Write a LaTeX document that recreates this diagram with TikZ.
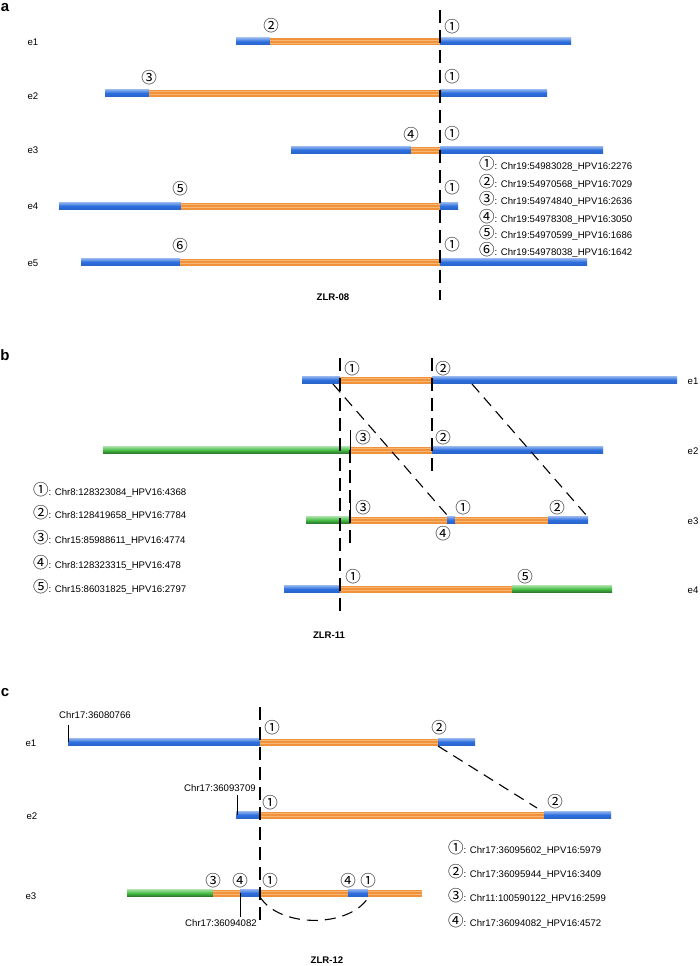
\documentclass[tikz,border=0pt]{standalone}
\usepackage{fontspec}
\setmainfont{Liberation Sans}
\newfontfamily\circf{Noto Sans CJK SC}
\definecolor{bblue}{RGB}{45,110,222}
\definecolor{borange}{RGB}{240,145,60}
\definecolor{ostripe}{RGB}{248,182,115}
\definecolor{bgreen}{RGB}{70,190,70}
\tikzset{
  lbl/.style={font=\fontsize{9.6}{11}\selectfont, inner sep=0pt},
  num/.style={font=\circf\fontsize{15.5}{15.5}\selectfont, inner sep=0pt},
  ttl/.style={font=\bfseries\fontsize{9.6}{11}\selectfont, inner sep=0pt},
  panel/.style={font=\bfseries\fontsize{15}{15}\selectfont, inner sep=0pt},
  legend/.style={font=\fontsize{9.6}{11}\selectfont, inner sep=0pt, anchor=west},
  vdash/.style={line width=1.1pt, dash pattern=on 13pt off 7pt},
  ddash/.style={line width=1.1pt, dash pattern=on 11pt off 7pt},
  tick/.style={line width=0.9pt},
}
\newcommand{\bseg}[3]{\shade[top color=bblue!55!white, bottom color=bblue!90!black, middle color=bblue] (#1,#3-3.5) rectangle (#2,#3+3.5);}
\newcommand{\gseg}[3]{\shade[top color=bgreen!50!white, bottom color=bgreen!60!black, middle color=bgreen] (#1,#3-3.5) rectangle (#2,#3+3.5);}
\newcommand{\oseg}[3]{\fill[borange] (#1,#3-3.5) rectangle (#2,#3+3.5);
  \draw[ostripe, line width=0.5pt] (#1,#3-1.3) -- (#2,#3-1.3) (#1,#3+1.3) -- (#2,#3+1.3);}
\newcommand{\cn}[1]{{\circf\fontsize{15.5}{15.5}\selectfont #1}}
\begin{document}
\begin{tikzpicture}[x=1pt, y=-1pt]
\useasboundingbox (0,0) rectangle (700,966);

\node[panel] (pa) at (5,8) {a};

\bseg{236}{270}{41.5} \oseg{270}{440}{41.5} \bseg{440}{571}{41.5}
\bseg{105}{149}{93} \oseg{149}{440}{93} \bseg{440}{547}{93}
\bseg{291}{411}{150} \oseg{411}{440}{150} \bseg{440}{603}{150}
\bseg{59}{181}{206} \oseg{181}{440}{206} \bseg{440}{458}{206}
\bseg{81}{180}{262} \oseg{180}{440}{262} \bseg{440}{587}{262}

\node[lbl] (ae1) at (33,42) {e1};
\node[lbl] (ae2) at (33,96) {e2};
\node[lbl] (ae3) at (33,150) {e3};
\node[lbl] (ae4) at (33,206) {e4};
\node[lbl] (ae5) at (33,263) {e5};

\coordinate (atop) at (440,10);
\coordinate (abot) at (440,300);
\draw[vdash] (atop) -- (abot);

\node[num] (a12) at (271,26) {②};
\node[num] (a11) at (452,27) {①};
\node[num] (a23) at (149,78) {③};
\node[num] (a21) at (452,77) {①};
\node[num] (a34) at (411,135) {④};
\node[num] (a31) at (452,134) {①};
\node[num] (a45) at (180,189) {⑤};
\node[num] (a41) at (452,188) {①};
\node[num] (a56) at (180,246) {⑥};
\node[num] (a51) at (452,245) {①};

\node[legend] (la1) at (479,164) {\cn{①}: Chr19:54983028\_HPV16:2276};
\node[legend] (la2) at (479,182) {\cn{②}: Chr19:54970568\_HPV16:7029};
\node[legend] (la3) at (479,199) {\cn{③}: Chr19:54974840\_HPV16:2636};
\node[legend] (la4) at (479,217) {\cn{④}: Chr19:54978308\_HPV16:3050};
\node[legend] (la5) at (479,233) {\cn{⑤}: Chr19:54970599\_HPV16:1686};
\node[legend] (la6) at (479,250) {\cn{⑥}: Chr19:54978038\_HPV16:1642};

\node[ttl] (za) at (333,297) {ZLR-08};

\node[panel] (pb) at (5,355) {b};

\bseg{302}{340}{380} \oseg{340}{432}{380} \bseg{432}{677}{380}
\gseg{103}{350}{450} \oseg{350}{432}{450} \bseg{432}{603}{450}
\gseg{306}{350}{520} \oseg{350}{447}{520} \bseg{447}{455}{520} \oseg{455}{548}{520} \bseg{548}{588}{520}
\bseg{284}{340}{589} \oseg{340}{512}{589} \gseg{512}{612}{589}

\node[lbl] (be1) at (693,381) {e1};
\node[lbl] (be2) at (693,451) {e2};
\node[lbl] (be3) at (693,521) {e3};
\node[lbl] (be4) at (693,590) {e4};

\coordinate (b1top) at (340,358);
\coordinate (b1bot) at (340,613);
\coordinate (b2top) at (432,358);
\coordinate (b2bot) at (432,473);
\coordinate (b3top) at (350,430);
\coordinate (b3mid) at (350,450);
\coordinate (b3bot) at (350,543);
\coordinate (b3e3) at (350,500);
\coordinate (b3e3b) at (350,520);
\draw[vdash] (b1top) -- (b1bot);
\draw[vdash] (b2top) -- (b2bot);
\draw[tick] (b3top) -- (b3mid);
\draw[vdash] (b3mid) -- (b3bot);
\draw[tick] (b3e3) -- (b3e3b);

\coordinate (bd1s) at (333,384);
\coordinate (bd1e) at (447,515);
\coordinate (bd2s) at (472,384);
\coordinate (bd2e) at (587,516);
\draw[ddash] (bd1s) -- (bd1e);
\draw[ddash] (bd2s) -- (bd2e);

\node[num] (b11) at (352,369) {①};
\node[num] (b12) at (443,369) {②};
\node[num] (b23) at (363,438) {③};
\node[num] (b22) at (443,438) {②};
\node[num] (b33) at (363,508) {③};
\node[num] (b31) at (463,508) {①};
\node[num] (b32) at (557,508) {②};
\node[num] (b34) at (443,534) {④};
\node[num] (b41) at (353,577) {①};
\node[num] (b45) at (525,577) {⑤};

\node[legend] (lb1) at (33,490) {\cn{①}: Chr8:128323084\_HPV16:4368};
\node[legend] (lb2) at (33,513) {\cn{②}: Chr8:128419658\_HPV16:7784};
\node[legend] (lb3) at (33,538) {\cn{③}: Chr15:85988611\_HPV16:4774};
\node[legend] (lb4) at (33,563) {\cn{④}: Chr8:128323315\_HPV16:478};
\node[legend] (lb5) at (33,587) {\cn{⑤}: Chr15:86031825\_HPV16:2797};

\node[ttl] (zb) at (329,635) {ZLR-11};

\node[panel] (pc) at (5,693) {c};

\bseg{68}{260}{742} \oseg{260}{438}{742} \bseg{438}{475}{742}
\bseg{236}{260}{815} \oseg{260}{544}{815} \bseg{544}{611}{815}
\gseg{127}{213}{893} \oseg{213}{240}{893} \bseg{240}{260}{893} \oseg{260}{348}{893} \bseg{348}{368}{893} \oseg{368}{422}{893}

\node[lbl] (ce1) at (31,743) {e1};
\node[lbl] (ce2) at (32,816) {e2};
\node[lbl] (ce3) at (31,896) {e3};

\node[lbl] (c1pos) at (95,715) {Chr17:36080766};
\node[lbl] (c2pos) at (220,788) {Chr17:36093709};
\node[lbl] (c3pos) at (221,923) {Chr17:36094082};
\coordinate (c1t) at (68,725);
\coordinate (c1b) at (68,742);
\coordinate (c2t) at (237,795);
\coordinate (c2b) at (237,815);
\coordinate (c3t) at (240,893);
\coordinate (c3b) at (240,917);
\draw[tick] (c1t) -- (c1b);
\draw[tick] (c2t) -- (c2b);
\draw[tick] (c3t) -- (c3b);

\coordinate (ctop) at (260,707);
\coordinate (cbot) at (260,927);
\draw[vdash] (ctop) -- (cbot);
\coordinate (cds) at (438,746);
\coordinate (cde) at (537,808);
\draw[ddash] (cds) -- (cde);
\coordinate (cas) at (260,897);
\coordinate (cae) at (368,898);
\draw[ddash] (cas) .. controls (280,928) and (348,928) .. (cae);

\node[num] (c11) at (272,728) {①};
\node[num] (c12) at (439,728) {②};
\node[num] (c21) at (270,803) {①};
\node[num] (c22) at (555,802) {②};
\node[num] (c33) at (213,881) {③};
\node[num] (c34) at (240,881) {④};
\node[num] (c31) at (270,881) {①};
\node[num] (c34b) at (348,881) {④};
\node[num] (c31b) at (368,881) {①};

\node[legend] (lc1) at (448,848) {\cn{①}: Chr17:36095602\_HPV16:5979};
\node[legend] (lc2) at (448,872) {\cn{②}: Chr17:36095944\_HPV16:3409};
\node[legend] (lc3) at (448,896) {\cn{③}: Chr11:100590122\_HPV16:2599};
\node[legend] (lc4) at (448,921) {\cn{④}: Chr17:36094082\_HPV16:4572};

\node[ttl] (zc) at (327,960) {ZLR-12};
\end{tikzpicture}
\end{document}
